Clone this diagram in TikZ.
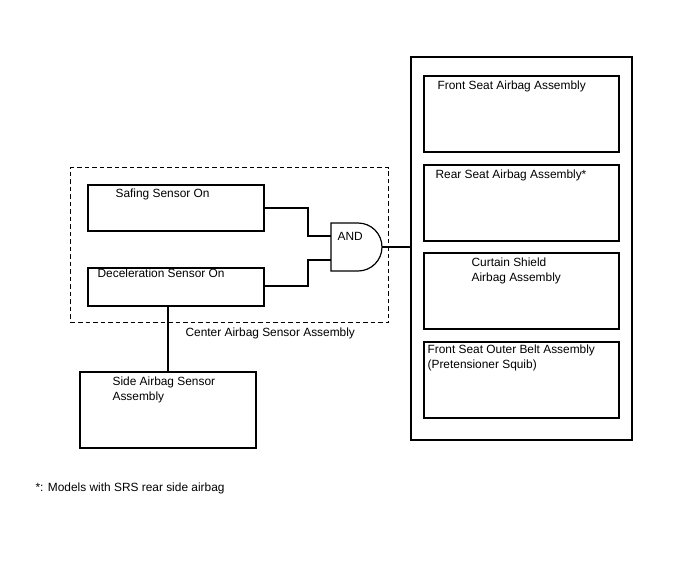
\documentclass[tikz,border=0pt]{standalone}
\usepackage{fontspec}
\setmainfont{Liberation Sans}
\begin{document}
\begin{tikzpicture}[x=1pt,y=-1pt,
  line width=1.2pt,
  box/.style={draw,rectangle,inner sep=0pt,outer sep=0pt},
  txt/.style={anchor=west,inner sep=0pt,font=\fontsize{11.9}{14.5}\selectfont,align=left},
  wire/.style={draw,line width=1.2pt}]
\useasboundingbox (0,0) rectangle (688,560);
% dashed assembly
\node[box,dash pattern=on 4.5pt off 3pt,minimum width=318pt,minimum height=155pt] (center) at (229.5,245) {};
\node[txt] (centerlbl) at (185,333) {Center Airbag Sensor Assembly};
% sensors
\node[box,minimum width=176pt,minimum height=46pt] (safing) at (176,208) {};
\node[txt] at (115,194) {Safing Sensor On};
\node[box,minimum width=176pt,minimum height=38pt] (decel) at (176,287) {};
\node[txt] at (97,273) {Deceleration Sensor On};
% AND gate
\coordinate (gA) at (331,223);
\draw (gA) -- (358,223) arc[start angle=-90,end angle=90,radius=24] -- (331,271) -- cycle;
\coordinate (gin1) at (331,236);
\coordinate (gin2) at (331,260);
\coordinate (gout) at (382,247);
\node[txt] (andlbl) at (337,236) {AND};
\draw[wire] (safing.east |- 0,208) -| (308,236) -- (gin1);
\draw[wire] (decel.east |- 0,286) -| (308,260) -- (gin2);
% outer box
\node[box,minimum width=221pt,minimum height=383pt] (outer) at (521.5,248.5) {};
\draw[wire] (gout) -- (outer.west |- gout);
\node[box,minimum width=195pt,minimum height=76pt] (b1) at (521.5,114) {};
\node[txt] at (437,86) {Front Seat Airbag Assembly};
\node[box,minimum width=195pt,minimum height=76pt] (b2) at (521.5,203) {};
\node[txt] at (435,175) {Rear Seat Airbag Assembly*};
\node[box,minimum width=195pt,minimum height=76pt] (b3) at (521.5,291) {};
\node[txt] at (471,271) {Curtain Shield\\Airbag Assembly};
\node[box,minimum width=195pt,minimum height=76pt] (b4) at (521.5,380) {};
\node[txt] at (427,358) {Front Seat Outer Belt Assembly\\(Pretensioner Squib)};
% side sensor
\node[box,minimum width=176pt,minimum height=76pt] (side) at (168,410) {};
\node[txt] at (112,390) {Side Airbag Sensor\\Assembly};
\draw[wire] (decel.south -| 168,0) -- (side.north -| 168,0);
% footnote
\node[txt] (foot) at (35,488) {*: Models with SRS rear side airbag};
\end{tikzpicture}
\end{document}
